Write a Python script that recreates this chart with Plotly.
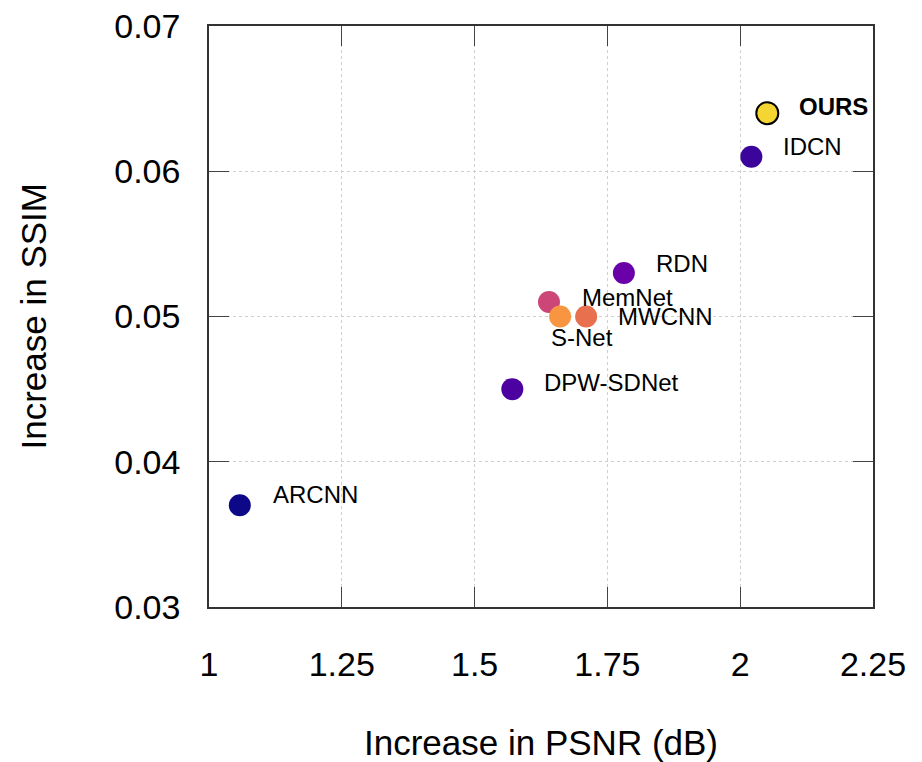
import plotly.graph_objects as go

methods = ["ARCNN", "DPW-SDNet", "MemNet", "S-Net", "MWCNN", "RDN", "IDCN", "OURS"]
psnr = [1.058, 1.571, 1.640, 1.661, 1.710, 1.781, 2.021, 2.051]
ssim = [0.037, 0.045, 0.051, 0.050, 0.050, 0.053, 0.061, 0.064]
colors = ["#0d0887", "#4c02a1", "#cc4778", "#f89540", "#e8704f", "#6a00a8", "#3b049a", "#f5d531"]
label_dx = [31, 30, 31, -11, 30, 30, 30, 30]
label_dy = [11, 7, 4, -21, 0, 9, 10, 7]
xticks = [1, 1.25, 1.5, 1.75, 2, 2.25]
xtick_text = ["1", "1.25", "1.5", "1.75", "2", "2.25"]
yticks = [0.03, 0.04, 0.05, 0.06, 0.07]
ytick_text = ["0.03", "0.04", "0.05", "0.06", "0.07"]

FONT = "Liberation Sans, Arial, sans-serif"

fig = go.Figure()
for i, m in enumerate(methods):
    fig.add_trace(go.Scatter(
        x=[psnr[i]], y=[ssim[i]], mode="markers", name=m,
        marker=dict(size=22, color=colors[i],
                    line=dict(color="black" if m == "OURS" else colors[i], width=2 if m == "OURS" else 0)),
        showlegend=False, hoverinfo="skip"))
    fig.add_annotation(
        x=psnr[i], y=ssim[i], text=("<b>%s</b>" % m) if m == "OURS" else m,
        showarrow=False, xanchor="left", yanchor="middle",
        xshift=label_dx[i], yshift=label_dy[i],
        font=dict(family=FONT, size=24, color="black"))

axis_common = dict(
    showline=True, linecolor="#333333", linewidth=1.5, mirror="ticks",
    ticks="inside", ticklen=20, tickwidth=1.2, tickcolor="#444444",
    showgrid=True, gridcolor="#cfcfcf", griddash="dot", gridwidth=1,
    zeroline=False, tickfont=dict(family=FONT, size=34, color="black"),
    ticklabeloverflow="allow", automargin=False,
)

fig.update_xaxes(range=[1, 2.25], tickvals=xticks, ticktext=xtick_text,
                 ticklabelstandoff=26, **axis_common)
fig.update_yaxes(range=[0.03, 0.07], tickvals=yticks, ticktext=ytick_text,
                 ticklabelstandoff=20, **axis_common)

fig.add_annotation(text="Increase in PSNR (dB)", xref="paper", yref="paper",
                   x=0.5, y=0, yshift=-135, showarrow=False,
                   xanchor="center", yanchor="middle",
                   font=dict(family=FONT, size=35, color="black"))
fig.add_annotation(text="Increase in SSIM", xref="paper", yref="paper",
                   x=0, y=0.5, xshift=-176, showarrow=False, textangle=-90,
                   xanchor="center", yanchor="middle",
                   font=dict(family=FONT, size=35, color="black"))

fig.update_layout(width=914, height=754, margin=dict(l=201, r=49, t=18, b=155),
                  plot_bgcolor="white", paper_bgcolor="white")

fig.write_html("out.html")
